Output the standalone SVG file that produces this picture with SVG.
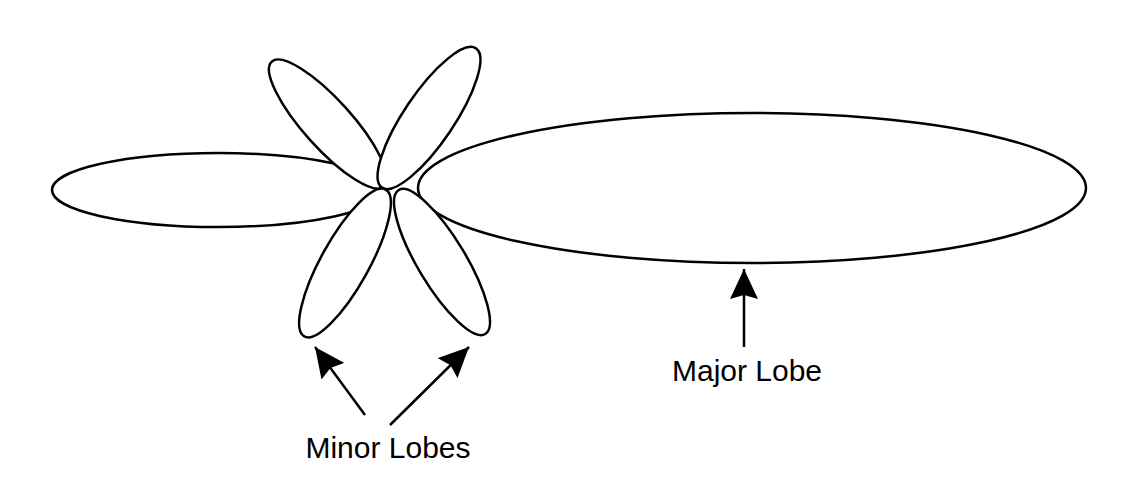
<svg xmlns="http://www.w3.org/2000/svg" width="1142" height="498" viewBox="0 0 1142 498">
<style>
.lobe{fill:#fff;stroke:#000;stroke-width:2.5}
.arr{fill:none;stroke:#000;stroke-width:2.5;marker-end:url(#ah)}
.lbl{font-family:"Liberation Sans",Arial,sans-serif;font-size:30px;fill:#000;text-anchor:middle}
</style>
<defs>
<marker id="ah" viewBox="0 0 30 28" refX="30" refY="14" markerWidth="30" markerHeight="28" markerUnits="userSpaceOnUse" orient="auto">
<path d="M0,0 L30,14 L0,28 L4,14 Z" fill="#000"/>
</marker>
</defs>
<rect width="1142" height="498" fill="#fff"/>
<g id="left-lobe"><ellipse class="lobe" cx="218" cy="190" rx="166" ry="37"/></g>
<g id="upper-left-lobe"><ellipse class="lobe" cx="328" cy="124" rx="84" ry="24" transform="rotate(48 328 124)"/></g>
<g id="upper-right-lobe"><ellipse class="lobe" cx="429" cy="118" rx="84" ry="25" transform="rotate(-56 429 118)"/></g>
<g id="major-lobe"><ellipse class="lobe" cx="752" cy="188" rx="334" ry="75"/></g>
<g id="lower-left-lobe"><ellipse class="lobe" cx="345" cy="263" rx="84" ry="24" transform="rotate(-61 345 263)"/></g>
<g id="lower-right-lobe"><ellipse class="lobe" cx="442" cy="262" rx="84" ry="24" transform="rotate(59 442 262)"/></g>
<g id="connectors">
<line class="arr" x1="744" y1="347" x2="744" y2="269"/>
<line class="arr" x1="365" y1="415" x2="315" y2="347"/>
<line class="arr" x1="390" y1="425" x2="469" y2="347"/>
</g>
<g id="label-major"><text class="lbl" x="747" y="381">Major Lobe</text></g>
<g id="label-minor"><text class="lbl" x="388" y="458">Minor Lobes</text></g>
</svg>
